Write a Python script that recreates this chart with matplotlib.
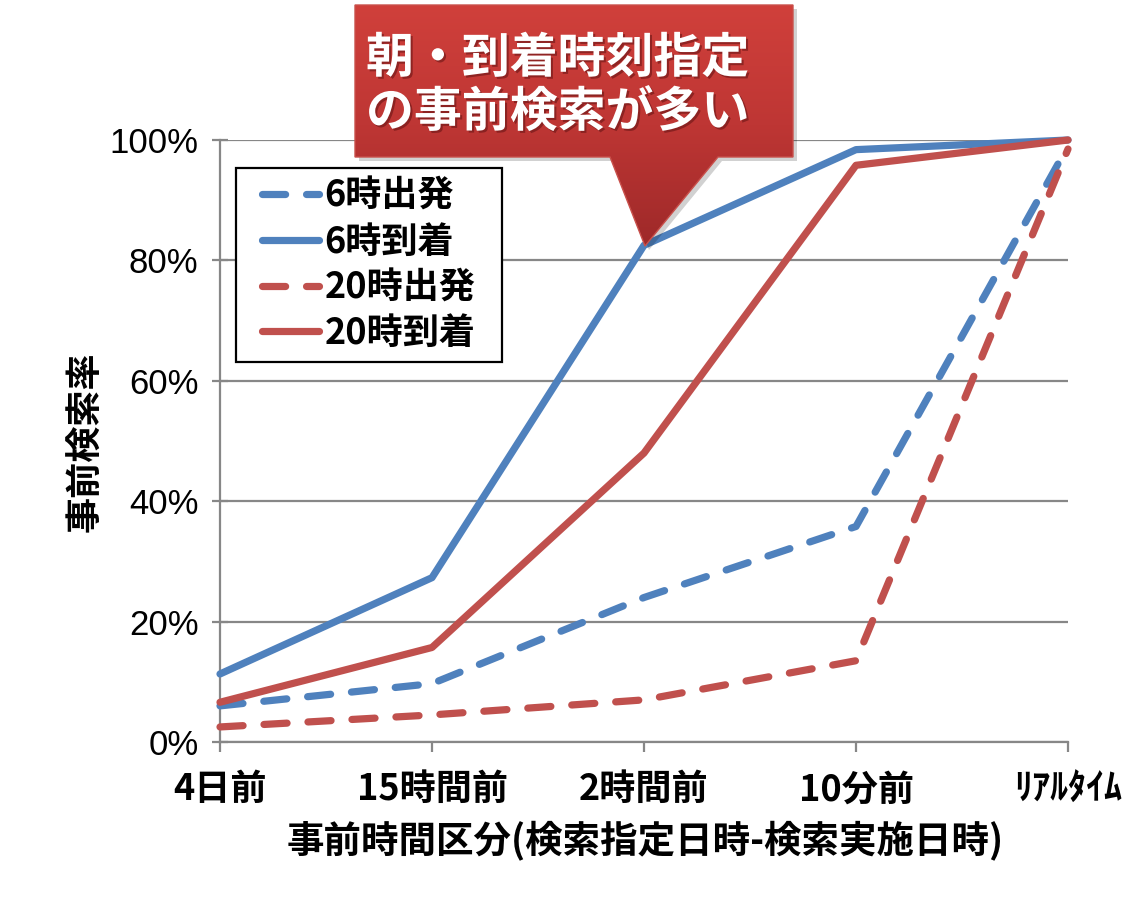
import matplotlib
matplotlib.use('Agg')
import matplotlib.pyplot as plt
import numpy as np
from matplotlib.patches import Polygon, Rectangle
from matplotlib.colors import LinearSegmentedColormap
import matplotlib.patheffects as pe

# ---- data ----
categories = ['4日前', '15時間前', '2時間前', '10分前', 'ﾘｱﾙﾀｲﾑ']
dep6 = [6.0, 9.7, 24.0, 35.8, 99.0]
arr6 = [11.3, 27.3, 82.5, 98.4, 100.0]
dep20 = [2.5, 4.5, 7.0, 13.5, 98.5]
arr20 = [6.6, 15.7, 48.0, 95.8, 100.0]
series_names = ['6時出発', '6時到着', '20時出発', '20時到着']
yticks = [0, 20, 40, 60, 80, 100]
ytick_labels = ['0%', '20%', '40%', '60%', '80%', '100%']
xlabel = '事前時間区分(検索指定日時-検索実施日時)'
ylabel = '事前検索率'
callout_lines = ['朝・到着時刻指定', 'の事前検索が多い']

BLUE = '#4F81BD'
RED = '#C0504D'
GRID = '#878787'
JP = ['Noto Sans CJK JP', 'DejaVu Sans']

W, H = 1146, 902
fig = plt.figure(figsize=(W / 100, H / 100), dpi=100)
fig.patch.set_facecolor('white')

ax = fig.add_axes([220 / W, 1 - 742 / H, 848 / W, 602 / H])
x = np.arange(len(categories))

styles = [(dep6, BLUE, True), (arr6, BLUE, False), (dep20, RED, True), (arr20, RED, False)]
for (vals, col, dashed), name in zip(styles, series_names):
    kw = dict(color=col, lw=5.2, label=name, clip_on=False, zorder=3,
              solid_capstyle='round', solid_joinstyle='round')
    if dashed:
        kw.update(linestyle=(0, (3.2, 2.9)), dash_capstyle='round', dash_joinstyle='round')
    ax.plot(x, vals, **kw)

ax.set_xlim(0, len(categories) - 1)
ax.set_ylim(0, 100)
ax.set_yticks(yticks)
ax.set_yticklabels(ytick_labels, family=['Liberation Sans'], fontsize=25)
ax.set_xticks(x)
ax.set_xticklabels(categories, family=JP, fontsize=26, fontweight='bold')
ax.yaxis.grid(True, color=GRID, lw=1.6, zorder=0)
ax.set_axisbelow(True)
for s in ['top', 'right']:
    ax.spines[s].set_visible(False)
for s in ['left', 'bottom']:
    ax.spines[s].set_color(GRID)
    ax.spines[s].set_linewidth(1.6)
ax.tick_params(axis='y', direction='inout', length=11, width=1.6, color=GRID, pad=10)
ax.tick_params(axis='x', direction='out', length=7, width=1.6, color=GRID, pad=14)

leg = ax.legend(loc='upper left', bbox_to_anchor=(0.049, 0.937),
                prop={'family': JP, 'size': 26, 'weight': 'bold'},
                frameon=False, handlelength=1.6, handletextpad=0.15, labelspacing=0.24,
                borderpad=0, borderaxespad=0)
leg.set_zorder(6)

fig.text(645 / W, 1 - 840 / H, xlabel, family=JP, fontsize=27, fontweight='bold',
         ha='center', va='center')
fig.text(86 / W, 1 - 442 / H, ylabel, family=JP, fontsize=26, fontweight='bold',
         ha='center', va='center', rotation=90)

# legend frame with wider horizontal padding
fig.canvas.draw()
bb = leg.get_window_extent(fig.canvas.get_renderer())
padx, pady = 26, 10
frame = Rectangle((bb.x0 - padx, bb.y0 - pady), bb.width + 2 * padx, bb.height + 2 * pady,
                  transform=None, facecolor='white', edgecolor='black', lw=1.6,
                  zorder=5, clip_on=False)
ax.add_patch(frame)

# ---- callout (decoration, pixel coordinates) ----
ov = fig.add_axes([0, 0, 1, 1], zorder=10)
ov.set_xlim(0, W)
ov.set_ylim(H, 0)
ov.axis('off')
ov.patch.set_alpha(0)

shape = [(355, 5), (793, 5), (793, 157), (718, 157), (645, 246), (610, 157), (355, 157)]
shadow = Polygon([(px + 4, py + 4) for px, py in shape], closed=True, facecolor='#000000',
                 alpha=0.18, edgecolor='none')
ov.add_patch(shadow)
poly = Polygon(shape, closed=True, facecolor='none', edgecolor='#C9504B', lw=1.0, zorder=3)
ov.add_patch(poly)
grad = np.linspace(0, 1, 256).reshape(-1, 1)
cmap = LinearSegmentedColormap.from_list('cg', ['#D0403B', '#BE3634', '#9E2929'])
im = ov.imshow(grad, cmap=cmap, extent=(355, 793, 246, 5), aspect='auto', zorder=2,
               interpolation='bilinear')
im.set_clip_path(poly)

tkw = dict(family=JP, fontsize=34.5, fontweight='bold', color='white', va='center', zorder=4,
           path_effects=[pe.withSimplePatchShadow(offset=(1.5, -1.5), shadow_rgbFace='#6a1515', alpha=0.6)])
for i, t in enumerate(callout_lines):
    ov.text(366, 58 + i * 54, t, ha='left', **tkw)

fig.savefig('out.png', dpi=100, facecolor='white')
